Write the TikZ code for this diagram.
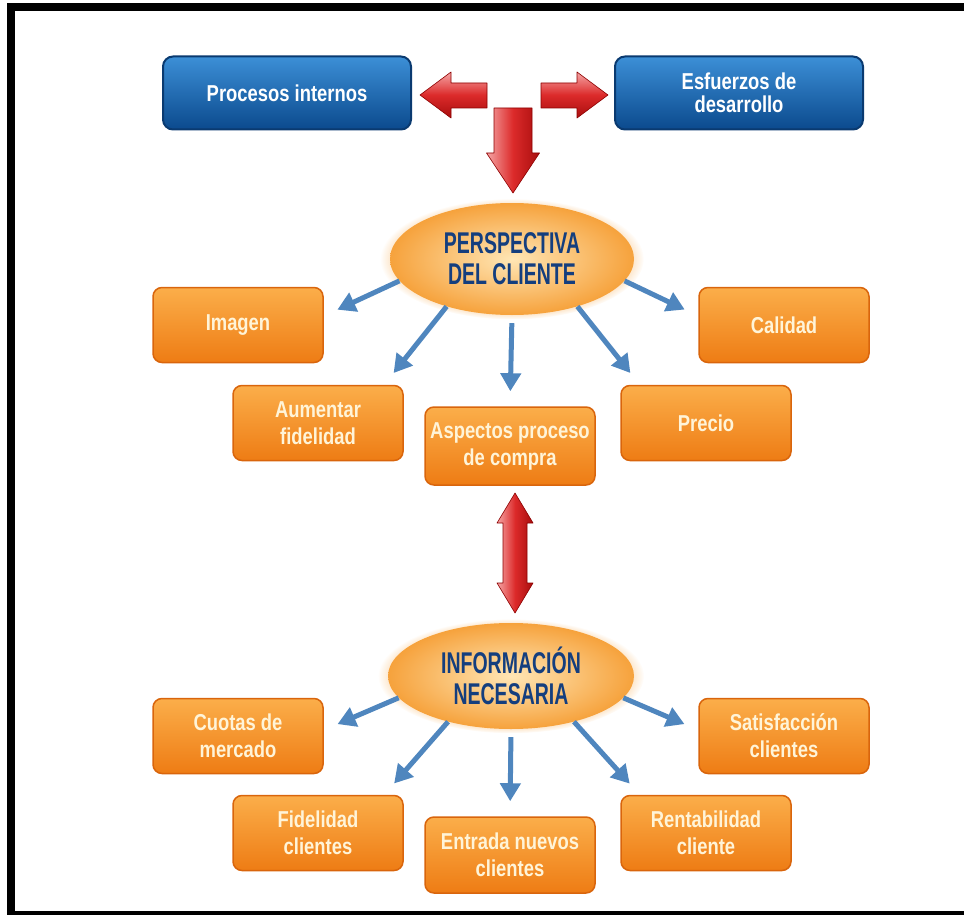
\documentclass[tikz,border=0pt]{standalone}
\usepackage{fontspec}
\setmainfont{Liberation Sans}
\newfontfamily\boxfont[FakeStretch=0.8]{Liberation Sans}
\newfontfamily\ovalfont[FakeStretch=0.65]{Liberation Sans}
\usetikzlibrary{shapes.geometric, arrows.meta, shadows, fadings}
\definecolor{bluetop}{HTML}{3C8FD6}
\definecolor{bluebot}{HTML}{0B4A8E}
\definecolor{blueline}{HTML}{0A3A70}
\definecolor{ortop}{HTML}{FBAE4A}
\definecolor{orbot}{HTML}{EE7C14}
\definecolor{orline}{HTML}{D9650C}
\definecolor{ortext}{HTML}{FFF4D8}
\definecolor{ovalin}{HTML}{FFE6B5}
\definecolor{ovalout}{HTML}{F6A23C}
\definecolor{ovaltext}{HTML}{143E7E}
\definecolor{feedblue}{HTML}{4F86BE}
\definecolor{redlight}{HTML}{F5A6A6}
\definecolor{redmid}{HTML}{DC2A2A}
\definecolor{reddark}{HTML}{A80E0E}
\tikzset{
  bluebox/.style={rectangle, rounded corners=10pt, minimum width=248pt, minimum height=73pt,
    top color=bluetop, bottom color=bluebot, draw=blueline, line width=2pt, text=white,
    font=\boxfont\bfseries\fontsize{23}{22.5}\selectfont, align=center},
  orbox/.style={rectangle, rounded corners=9pt, minimum width=170pt, minimum height=75pt,
    top color=ortop, bottom color=orbot, draw=orline, line width=1.5pt, text=ortext,
    font=\boxfont\bfseries\fontsize{23}{27}\selectfont, align=center, inner sep=2pt},
  oval/.style={ellipse, minimum width=244pt, minimum height=112pt, inner sep=0pt,
    circular glow={fill=ovalout, opacity=.45, shadow scale=1.08},
    inner color=ovalin, outer color=ovalout, text=ovaltext,
    font=\ovalfont\bfseries\fontsize{30}{31}\selectfont, align=center},
  feed/.style={draw=feedblue, line width=5pt, -{Triangle[length=18pt,width=20pt]}, shorten >=15pt},
  redside/.style={top color=redlight, bottom color=reddark, middle color=redmid,
    draw=red!55!black, line width=.6pt, line join=round},
  reddown/.style={left color=redlight, right color=reddark, middle color=redmid,
    draw=red!55!black, line width=.6pt, line join=round}
}
\begin{document}
\begin{tikzpicture}[x=1pt, y=-1pt]
\useasboundingbox (0,0) rectangle (964,915);
\draw[line width=8pt] (990,7) -- (11,7) -- (11,915) -- (990,915);

\node[bluebox] (proc) at (287,93) {Procesos internos};
\node[bluebox] (esf) at (739,93) {Esfuerzos de\\desarrollo};
\shade[redside] (420,95) -- (451,72) -- (451,83) -- (487,83) -- (487,108) -- (451,108) -- (451,118) -- cycle;
\shade[redside] (608,95) -- (577,72) -- (577,83) -- (541,83) -- (541,108) -- (577,108) -- (577,118) -- cycle;
\shade[reddown] (494,108) -- (532,108) -- (532,153) -- (539.5,153) -- (513,193) -- (486.5,153) -- (494,153) -- cycle;

\node[oval] (persp) at (512,259) {PERSPECTIVA\\DEL CLIENTE};
\node[orbox] (imagen) at (238,325) {Imagen};
\node[orbox] (calidad) at (784,325) {Calidad};
\node[orbox] (aum) at (318,423) {Aumentar\\fidelidad};
\node[orbox, minimum height=78pt] (asp) at (510,446) {Aspectos proceso\\de compra};
\node[orbox] (precio) at (706,423) {Precio};

\draw[feed] (persp.191) -- (imagen.6);
\draw[feed] (persp.216) -- (aum.30);
\draw[feed, shorten <=8pt] (persp.south) -- (asp.north);
\draw[feed] (persp.324) -- (precio.150);
\draw[feed] (persp.349) -- (calidad.174);

\shade[reddown] (515,493) -- (533,523) -- (527,523) -- (527,583) -- (533,583) -- (515,613)
  -- (497,583) -- (503,583) -- (503,523) -- (497,523) -- cycle;

\node[oval, minimum width=246pt, minimum height=106pt] (info) at (511,676) {INFORMACIÓN\\NECESARIA};
\node[orbox] (cuotas) at (238,736) {Cuotas de\\mercado};
\node[orbox] (satis) at (784,736) {Satisfacción\\clientes};
\node[orbox] (fidel) at (318,833) {Fidelidad\\clientes};
\node[orbox, minimum height=76pt] (entrada) at (510,855) {Entrada nuevos\\clientes};
\node[orbox] (rent) at (706,833) {Rentabilidad\\cliente};

\draw[feed] (info.191) -- (cuotas.4);
\draw[feed] (info.216) -- (fidel.30);
\draw[feed, shorten <=8pt] (info.south) -- (entrada.north);
\draw[feed] (info.324) -- (rent.150);
\draw[feed] (info.349) -- (satis.176);
\end{tikzpicture}
\end{document}
